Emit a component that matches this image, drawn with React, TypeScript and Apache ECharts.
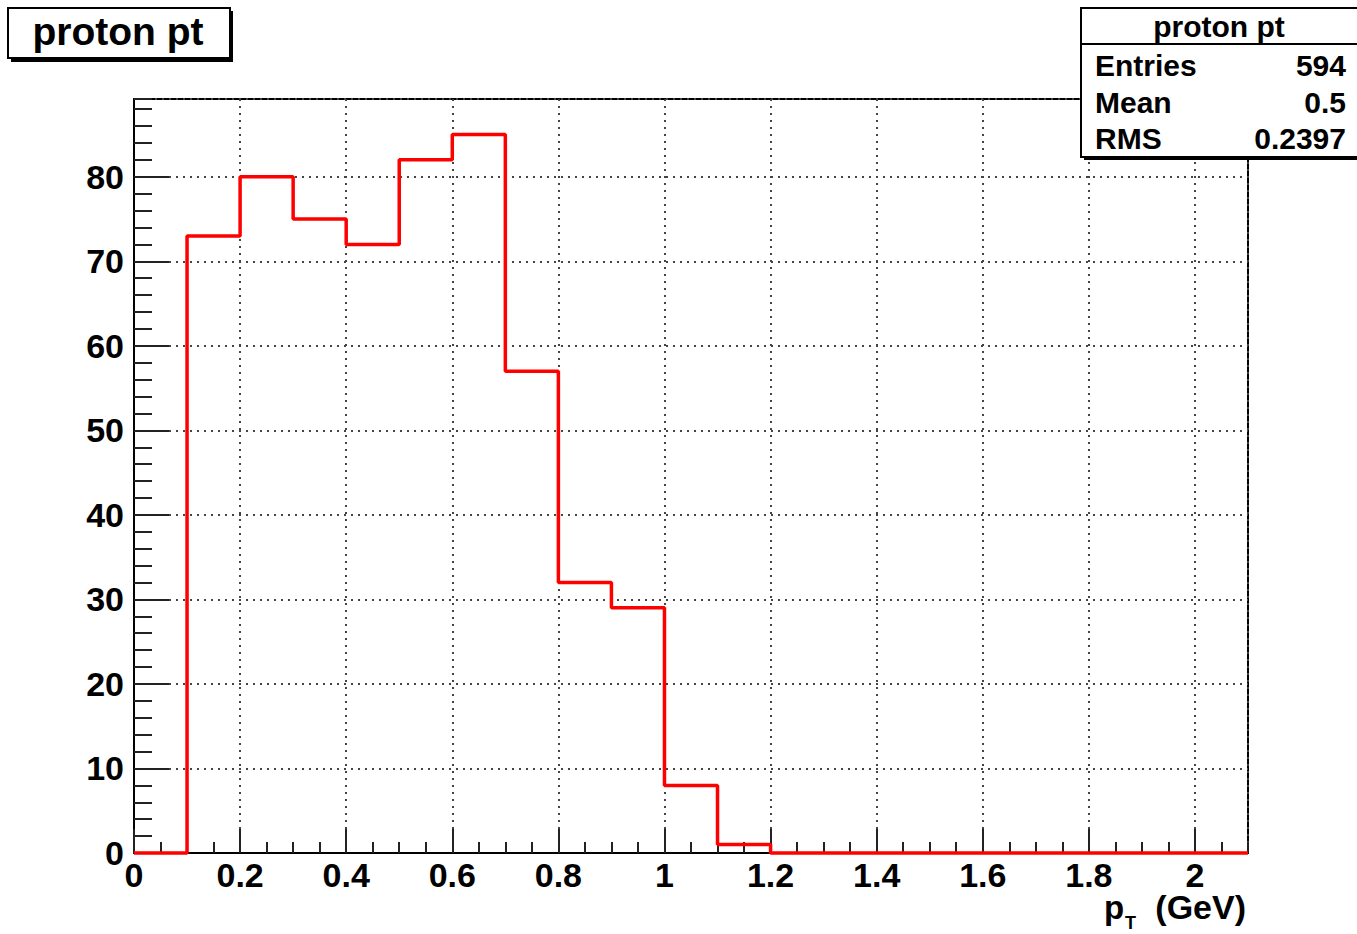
import React, { useEffect, useRef } from "react";
import * as echarts from "echarts";

// Histogram "proton pt": 21 bins of width 0.1 GeV from 0 to 2.1
const binEdges = [0, 0.1, 0.2, 0.3, 0.4, 0.5, 0.6, 0.7, 0.8, 0.9, 1.0, 1.1, 1.2, 1.3, 1.4, 1.5, 1.6, 1.7, 1.8, 1.9, 2.0, 2.1];
const counts = [0, 73, 80, 75, 72, 82, 85, 57, 32, 29, 8, 1, 0, 0, 0, 0, 0, 0, 0, 0, 0];

const titleText = "proton pt";
const statsTitle = "proton pt";
const statsLabels = ["Entries", "Mean", "RMS"];
const statsValues = ["594", "0.5", "0.2397"];

const FONT = "'Liberation Sans', Arial, Helvetica, sans-serif";

export default function App() {
  const ref = useRef<HTMLDivElement>(null);

  useEffect(() => {
    if (!ref.current) return;
    const chart = echarts.init(ref.current, undefined, { renderer: "svg" });

    const stepData = binEdges.map((e, i) => [e, counts[Math.min(i, counts.length - 1)]]);

    const statsRowsY = [65, 102, 138];
    const statsGraphics: any[] = [];
    statsLabels.forEach((lab, i) => {
      statsGraphics.push({
        type: "text",
        z: 101,
        style: {
          x: 1095,
          y: statsRowsY[i],
          text: lab,
          fill: "#000",
          font: `bold 30px ${FONT}`,
          textAlign: "left",
          textVerticalAlign: "middle",
        },
      });
      statsGraphics.push({
        type: "text",
        z: 101,
        style: {
          x: 1346,
          y: statsRowsY[i],
          text: statsValues[i],
          fill: "#000",
          font: `bold 30px ${FONT}`,
          textAlign: "right",
          textVerticalAlign: "middle",
        },
      });
    });

    const option: any = {
      animation: false,
      backgroundColor: "#fff",
      grid: {
        left: 134,
        right: 109,
        top: 99,
        bottom: 81,
        show: true,
        borderColor: "#000",
        borderWidth: 2,
        backgroundColor: "transparent",
      },
      xAxis: [
        {
          type: "value",
          position: "bottom",
          min: 0,
          max: 2.1,
          interval: 0.2,
          axisLine: { show: true, onZero: false, lineStyle: { color: "#000", width: 2 } },
          axisTick: { show: true, inside: true, length: 24, lineStyle: { color: "#222", width: 2 } },
          axisLabel: {
            show: true,
            showMaxLabel: false,
            margin: 5,
            color: "#000",
            fontFamily: FONT,
            fontWeight: "bold",
            fontSize: 34,
          },
          splitLine: { show: true, lineStyle: { color: "#444", width: 2, type: [2, 5] } },
        },
        {
          type: "value",
          position: "bottom",
          min: 0,
          max: 2.1,
          interval: 0.05,
          axisLine: { show: false, onZero: false },
          axisTick: { show: true, inside: true, length: 11, lineStyle: { color: "#222", width: 2 } },
          axisLabel: { show: false },
          splitLine: { show: false },
        },
      ],
      yAxis: [
        {
          type: "value",
          position: "left",
          min: 0,
          max: 89.2,
          interval: 10,
          axisLine: { show: true, onZero: false, lineStyle: { color: "#000", width: 2 } },
          axisTick: { show: true, inside: true, length: 35, lineStyle: { color: "#222", width: 2 } },
          axisLabel: {
            show: true,
            showMaxLabel: false,
            margin: 10,
            color: "#000",
            fontFamily: FONT,
            fontWeight: "bold",
            fontSize: 34,
          },
          splitLine: { show: true, lineStyle: { color: "#444", width: 2, type: [2, 5] } },
        },
        {
          type: "value",
          position: "left",
          min: 0,
          max: 89.2,
          interval: 2,
          axisLine: { show: false, onZero: false },
          axisTick: { show: true, inside: true, length: 18, lineStyle: { color: "#222", width: 2 } },
          axisLabel: { show: false },
          splitLine: { show: false },
        },
      ],
      series: [
        {
          type: "line",
          xAxisIndex: 0,
          yAxisIndex: 0,
          step: "end",
          data: stepData,
          symbol: "none",
          clip: false,
          lineStyle: { color: "#ff0000", width: 3.5 },
          z: 5,
        },
      ],
      graphic: [
        // title box with shadow
        { type: "rect", z: 100, shape: { x: 11, y: 11, width: 222, height: 51 }, style: { fill: "#000" } },
        {
          type: "rect",
          z: 100,
          shape: { x: 8, y: 8, width: 222, height: 50 },
          style: { fill: "#fff", stroke: "#000", lineWidth: 2 },
        },
        {
          type: "text",
          z: 101,
          style: {
            x: 118,
            y: 31,
            text: titleText,
            fill: "#000",
            font: `bold 39px ${FONT}`,
            textAlign: "center",
            textVerticalAlign: "middle",
          },
        },
        // stats box
        { type: "rect", z: 100, shape: { x: 1084, y: 11, width: 290, height: 149 }, style: { fill: "#000" } },
        {
          type: "rect",
          z: 100,
          shape: { x: 1081, y: 8, width: 290, height: 149 },
          style: { fill: "#fff", stroke: "#000", lineWidth: 2 },
        },
        {
          type: "line",
          z: 101,
          shape: { x1: 1081, y1: 44, x2: 1371, y2: 44 },
          style: { stroke: "#000", lineWidth: 2 },
        },
        {
          type: "text",
          z: 101,
          style: {
            x: 1219,
            y: 26,
            text: statsTitle,
            fill: "#000",
            font: `bold 30px ${FONT}`,
            textAlign: "center",
            textVerticalAlign: "middle",
          },
        },
        ...statsGraphics,
        // x axis title p_T (GeV)
        {
          type: "text",
          z: 101,
          style: {
            x: 1104,
            y: 907,
            text: "p",
            fill: "#000",
            font: `bold 33px ${FONT}`,
            textAlign: "left",
            textVerticalAlign: "middle",
          },
        },
        {
          type: "text",
          z: 101,
          style: {
            x: 1125,
            y: 923,
            text: "T",
            fill: "#000",
            font: `bold 18px ${FONT}`,
            textAlign: "left",
            textVerticalAlign: "middle",
          },
        },
        {
          type: "text",
          z: 101,
          style: {
            x: 1246,
            y: 907,
            text: "(GeV)",
            fill: "#000",
            font: `bold 34px ${FONT}`,
            textAlign: "right",
            textVerticalAlign: "middle",
          },
        },
      ],
    };

    chart.setOption(option);
    return () => chart.dispose();
  }, []);

  return (
    <div
      ref={ref}
      style={{ position: "fixed", left: 0, top: 0, width: 1357, height: 934, background: "#fff" }}
    />
  );
}
